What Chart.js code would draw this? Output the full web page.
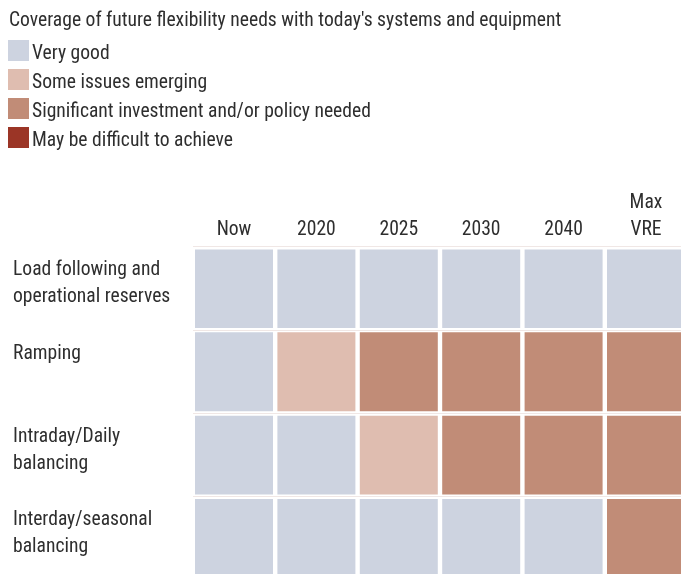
<!DOCTYPE html>
<html>
<head>
<meta charset="utf-8">
<script src="https://cdn.jsdelivr.net/npm/chart.js@4.4.1/dist/chart.umd.min.js"></script>
<style>
  html, body { margin: 0; padding: 0; background: #ffffff; overflow: hidden; }
  #wrap { position: absolute; left: 0; top: 0; width: 700px; height: 600px; }
</style>
</head>
<body>
<div id="wrap"><canvas id="c" width="700" height="600"></canvas></div>
<script>
// ---- Data ----
const chartTitle = "Coverage of future flexibility needs with today's systems and equipment";
const columns = ['Now', '2020', '2025', '2030', '2040', ['Max', 'VRE']];
const rowLabels = [
  ['Load following and', 'operational reserves'],
  ['Ramping'],
  ['Intraday/Daily', 'balancing'],
  ['Interday/seasonal', 'balancing']
];
const statusNames = [
  'Very good',
  'Some issues emerging',
  'Significant investment and/or policy needed',
  'May be difficult to achieve'
];
const statusColors = ['#cdd3e0', '#dfbdb0', '#c18c77', '#9b3526'];
// status index per column (Now, 2020, 2025, 2030, 2040, Max VRE)
const loadFollowing = [0, 0, 0, 0, 0, 0];
const ramping       = [0, 1, 2, 2, 2, 2];
const intraday      = [0, 0, 1, 2, 2, 2];
const interday      = [0, 0, 0, 0, 0, 2];
const rowStatus = [loadFollowing, ramping, intraday, interday];

// ---- Style ----
const FONT = "'Roboto Condensed', 'Open Sans Condensed', sans-serif";
const FSIZE = 19.6;
const TEXT = '#2e2e2e';
const LABEL_FRAC = 0.446; // vertical placement of row labels within a row

const headerPlugin = {
  id: 'header',
  afterDraw(chart) {
    const ctx = chart.ctx;
    ctx.save();
    ctx.font = FSIZE + 'px ' + FONT;
    ctx.fillStyle = TEXT;
    ctx.textBaseline = 'middle';
    ctx.textAlign = 'left';
    ctx.fillText(chartTitle, 9, 21);
    statusNames.forEach((name, i) => {
      const cy = 50.5 + i * 29;
      ctx.fillStyle = statusColors[i];
      ctx.fillRect(8, cy - 10.5, 21, 21);
      ctx.fillStyle = TEXT;
      ctx.fillText(name, 32, cy + 4);
    });
    ctx.restore();
  }
};

const datasets = rowStatus.map((statuses, i) => ({
  label: rowLabels[i].join(' '),
  data: statuses.map(() => 1),
  backgroundColor: statuses.map(s => statusColors[s]),
  borderColor: '#ffffff',
  borderWidth: 2.2,
  borderSkipped: false,
  inflateAmount: 0,
  barPercentage: 1,
  categoryPercentage: 1
}));

new Chart(document.getElementById('c'), {
  type: 'bar',
  data: { labels: columns, datasets },
  plugins: [headerPlugin],
  options: {
    responsive: false,
    devicePixelRatio: 1,
    animation: false,
    events: [],
    layout: { padding: { left: 13, top: 186.8, right: 12.8, bottom: 19.9 } },
    plugins: {
      legend: { display: false },
      title: { display: false },
      tooltip: { enabled: false }
    },
    scales: {
      x: {
        type: 'category',
        position: 'top',
        stacked: true,
        grid: { display: false, drawTicks: false },
        border: { display: false },
        ticks: {
          color: TEXT,
          padding: 2.8,
          maxRotation: 0,
          autoSkip: false,
          font: { family: FONT, size: FSIZE, lineHeight: 27 / FSIZE }
        },
        afterFit(scale) { scale.height = 60; }
      },
      y: {
        type: 'linear',
        stacked: true,
        reverse: true,
        min: 0,
        max: rowLabels.length,
        border: { display: false },
        grid: {
          z: 1,
          drawTicks: false,
          lineWidth: 1,
          color: (ctx) => (ctx.tick && Number.isInteger(ctx.tick.value)) ? 'rgba(226,208,204,0.5)' : 'rgba(0,0,0,0)'
        },
        afterBuildTicks(scale) {
          const t = [];
          for (let i = 0; i <= rowLabels.length; i++) t.push({ value: i });
          rowLabels.forEach((_, i) => t.push({ value: i + LABEL_FRAC }));
          scale.ticks = t;
        },
        ticks: {
          autoSkip: false,
          crossAlign: 'far',
          color: TEXT,
          font: { family: FONT, size: FSIZE, lineHeight: 27 / FSIZE },
          callback(value) {
            if (Number.isInteger(value)) return '';
            const lab = rowLabels[Math.floor(value)];
            return lab.length === 1 ? [lab[0], ''] : lab;
          }
        },
        afterFit(scale) { scale.width = 179.8; }
      }
    }
  }
});
</script>
</body>
</html>
